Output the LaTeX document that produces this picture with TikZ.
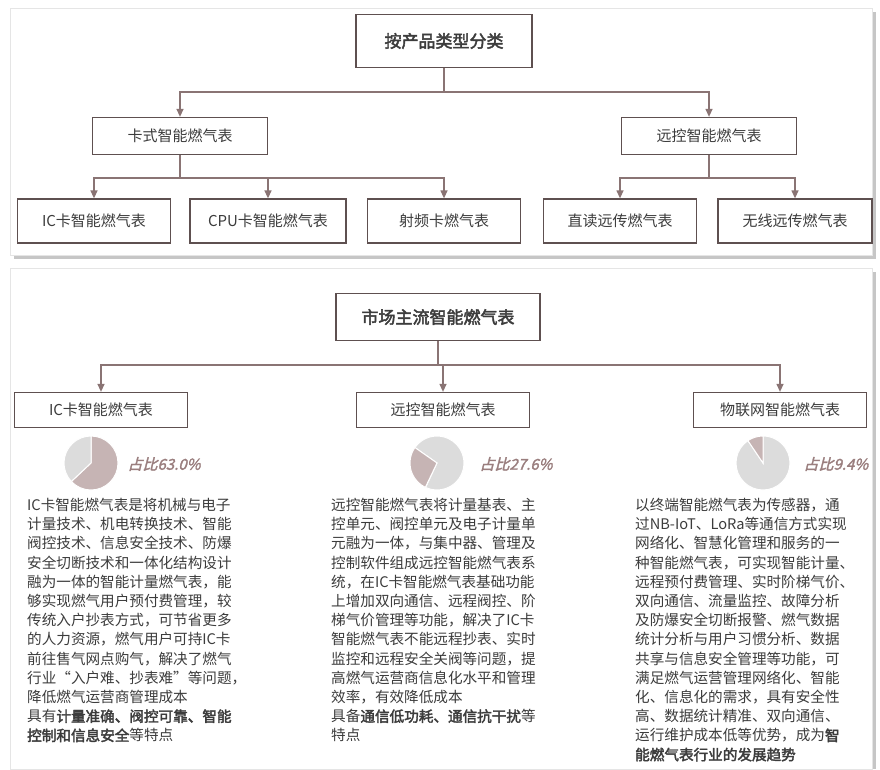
\documentclass[tikz,border=0pt]{standalone}
\usepackage{fontspec}
\setmainfont{Noto Sans CJK SC}
\newfontfamily\cjkb[FakeBold=2.5]{Noto Sans CJK SC}
\newfontfamily\cjkbi[FakeBold=2,FakeSlant=0.25]{Noto Sans CJK SC}
\usetikzlibrary{arrows.meta}
\definecolor{bx}{HTML}{5E5050}
\definecolor{ar}{HTML}{8A7474}
\definecolor{pb}{HTML}{C6B4B4}
\definecolor{pg}{HTML}{DCDCDC}
\definecolor{tx}{HTML}{3C3C3C}
\definecolor{lb}{HTML}{9A7E7E}
\begin{document}
\begin{tikzpicture}[x=1pt,y=-1pt,
  box/.style={draw=bx,line width=1.3pt,fill=white,inner sep=0pt,font=\fontsize{15}{18}\selectfont,text=tx},
  con/.style={draw=ar,line width=1.3pt,-{Triangle[width=7pt,length=8pt]}},
  lnk/.style={draw=ar,line width=1.3pt},
  body/.style={anchor=north west,align=left,text=tx,inner sep=0pt,font=\fontsize{14.6}{19.2}\selectfont},
  pct/.style={text=lb,font=\fontsize{15}{16}\cjkbi,anchor=west}]
\useasboundingbox (0,0) rectangle (880,769);
\fill[white] (0,0) rectangle (880,769);
% panels
\fill[gray!45] (14,12) rectangle (876,259);
\fill[white,draw=gray!20] (10,8) rectangle (872,255);
\fill[gray!45] (14,272) rectangle (876,769);
\fill[white,draw=gray!20] (10,268) rectangle (872,769);
% top tree
\node[box,minimum width=176pt,minimum height=53pt,font=\fontsize{17}{20}\cjkb] (r) at (444,41) {按产品类型分类};
\node[box,minimum width=175pt,minimum height=37pt] (a) at (180,136) {卡式智能燃气表};
\node[box,minimum width=175pt,minimum height=37pt] (b) at (709,136) {远控智能燃气表};
\node[box,minimum width=153pt,minimum height=44pt] (a1) at (94,221) {IC卡智能燃气表};
\node[box,minimum width=156pt,minimum height=44pt] (a2) at (268,221) {CPU卡智能燃气表};
\node[box,minimum width=153pt,minimum height=44pt] (a3) at (444,221) {射频卡燃气表};
\node[box,minimum width=153pt,minimum height=44pt] (b1) at (620,221) {直读远传燃气表};
\node[box,minimum width=154pt,minimum height=44pt] (b2) at (795,221) {无线远传燃气表};
\coordinate (j0) at (444,92);
\draw[lnk] (r.south) -- (j0);
\draw[con] (j0) -| (a.north);
\draw[con] (j0) -| (b.north);
\coordinate (j1) at (180,178);
\coordinate (j2) at (709,178);
\draw[lnk] (a.south) -- (j1);
\draw[lnk] (b.south) -- (j2);
\draw[con] (j1) -| (a1.north);
\draw[con] (j1) -| (a2.north);
\draw[con] (j1) -| (a3.north);
\draw[con] (j2) -| (b1.north);
\draw[con] (j2) -| (b2.north);
% bottom tree
\node[box,minimum width=204pt,minimum height=47pt,font=\fontsize{17}{20}\cjkb] (m) at (438,317) {市场主流智能燃气表};
\node[box,minimum width=173pt,minimum height=35pt] (c1) at (101,410) {IC卡智能燃气表};
\node[box,minimum width=173pt,minimum height=35pt] (c2) at (443,410) {远控智能燃气表};
\node[box,minimum width=173pt,minimum height=35pt] (c3) at (780,410) {物联网智能燃气表};
\coordinate (j3) at (438,365);
\draw[lnk] (m.south) -- (j3);
\draw[con] (j3) -| (c1.north);
\draw[con] (j3) -| (c2.north);
\draw[con] (j3) -| (c3.north);
% pies (y flipped back so angles are normal)
\begin{scope}[shift={(91,463)},yscale=-1]
\fill[pb,draw=white,line width=1pt] (0,0) -- (90:27) arc[start angle=90,end angle=-136.8,radius=27] -- cycle;
\fill[pg,draw=white,line width=1pt] (0,0) -- (-136.8:27) arc[start angle=-136.8,end angle=-270,radius=27] -- cycle;
\end{scope}
\begin{scope}[shift={(437,463)},yscale=-1]
\fill[pg,draw=white,line width=1pt] (0,0) -- (-115:27) arc[start angle=-115,end angle=145,radius=27] -- cycle;
\fill[pb,draw=white,line width=1pt] (0,0) -- (145:27) arc[start angle=145,end angle=244.4,radius=27] -- cycle;
\end{scope}
\begin{scope}[shift={(763,463)},yscale=-1]
\fill[pg,draw=white,line width=1pt] (0,0) -- (124:27) arc[start angle=124,end angle=450,radius=27] -- cycle;
\fill[pb,draw=white,line width=1pt] (0,0) -- (90:27) arc[start angle=90,end angle=124,radius=27] -- cycle;
\end{scope}
\node[pct] (p1) at (124,464) {占比63.0\%};
\node[pct] (p2) at (476,464) {占比27.6\%};
\node[pct] (p3) at (800,464) {占比9.4\%};
% texts
\node[body] (t1) at (27,498) {IC卡智能燃气表是将机械与电子\\计量技术、机电转换技术、智能\\阀控技术、信息安全技术、防爆\\安全切断技术和一体化结构设计\\融为一体的智能计量燃气表，能\\够实现燃气用户预付费管理，较\\传统入户抄表方式，可节省更多\\的人力资源，燃气用户可持IC卡\\前往售气网点购气，解决了燃气\\行业“入户难、抄表难”等问题，\\降低燃气运营商管理成本\\具有{\cjkb 计量准确、阀控可靠、智能}\\{\cjkb 控制和信息安全}等特点};
\node[body] (t2) at (331,498) {远控智能燃气表将计量基表、主\\控单元、阀控单元及电子计量单\\元融为一体，与集中器、管理及\\控制软件组成远控智能燃气表系\\统，在IC卡智能燃气表基础功能\\上增加双向通信、远程阀控、阶\\梯气价管理等功能，解决了IC卡\\智能燃气表不能远程抄表、实时\\监控和远程安全关阀等问题，提\\高燃气运营商信息化水平和管理\\效率，有效降低成本\\具备{\cjkb 通信低功耗、通信抗干扰}等\\特点};
\node[body] (t3) at (635,498) {以终端智能燃气表为传感器，通\\过NB-IoT、LoRa等通信方式实现\\网络化、智慧化管理和服务的一\\种智能燃气表，可实现智能计量、\\远程预付费管理、实时阶梯气价、\\双向通信、流量监控、故障分析\\及防爆安全切断报警、燃气数据\\统计分析与用户习惯分析、数据\\共享与信息安全管理等功能，可\\满足燃气运营管理网络化、智能\\化、信息化的需求，具有安全性\\高、数据统计精准、双向通信、\\运行维护成本低等优势，成为{\cjkb 智}\\{\cjkb 能燃气表行业的发展趋势}};
\end{tikzpicture}
\end{document}
